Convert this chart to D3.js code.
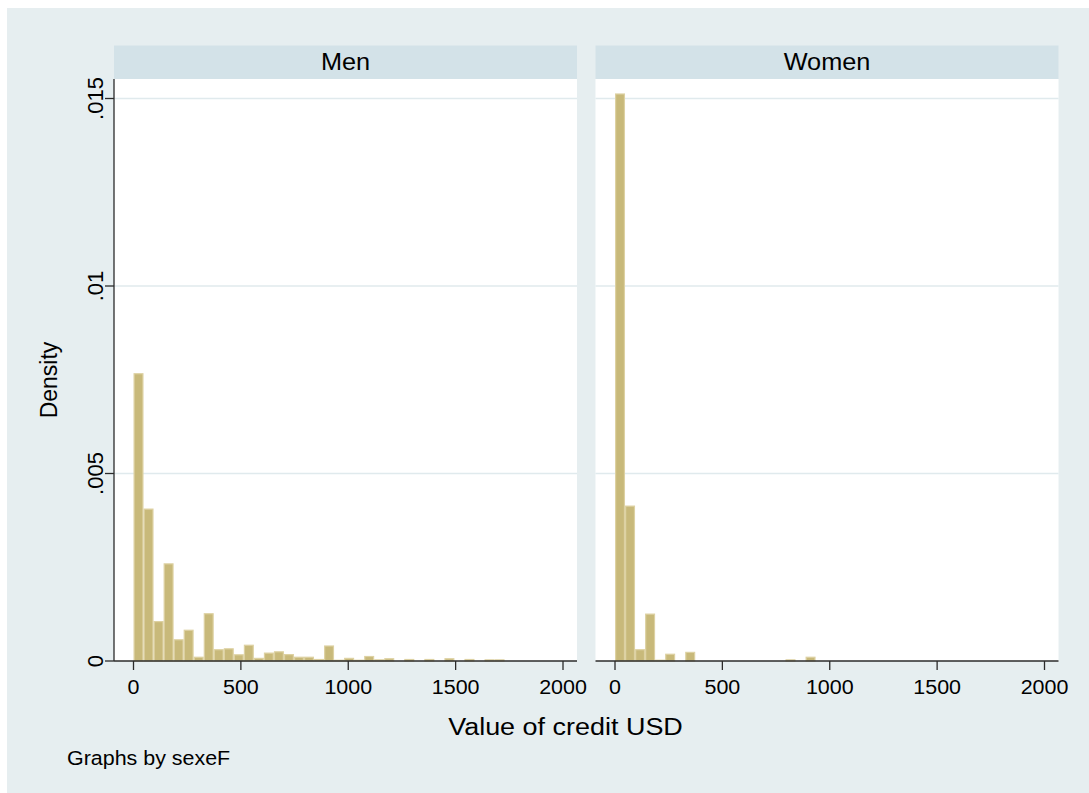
<!DOCTYPE html>
<html>
<head>
<meta charset="utf-8">
<script src="https://cdn.jsdelivr.net/npm/d3@7"></script>
<style>
  html, body { margin: 0; padding: 0; background: #ffffff; }
  svg { display: block; }
  text { font-family: "Liberation Sans", Arial, Helvetica, sans-serif; fill: #000; }
</style>
</head>
<body>
<svg id="chart" width="1089" height="793"></svg>
<script>
// Histogram of credit value by sex: densities per bin, bins start at 0
const binWidth = 46.7;
const panels = ["Men", "Women"];
const menDensity = [
  0.00766, 0.00405, 0.00105, 0.00259, 0.000565, 0.00082, 0.0001, 0.00126,
  0.0003, 0.000325, 0.000165, 0.00042, 0.00007, 0.00021, 0.000245, 0.00017,
  0.0001, 0.0001, 0.00004, 0.0004, 0.00002, 0.00007, 0.00002, 0.00012,
  0.00003, 0.00006, 0, 0.00004, 0, 0.00004, 0, 0.00006,
  0, 0.00004, 0, 0.00003, 0.00003
];
const womenDensity = [
  0.01512, 0.00413, 0.0003, 0.00125, 0.00002, 0.00018, 0, 0.00023,
  0, 0, 0, 0, 0, 0, 0, 0,
  0, 0.00003, 0, 0.0001
];
const xTicks = [0, 500, 1000, 1500, 2000];
const yTicks = [0, 0.005, 0.01, 0.015];
const yTickLabels = ["0", ".005", ".01", ".015"];
const xTitle = "Value of credit USD";
const yTitle = "Density";
const note = "Graphs by sexeF";

const svg = d3.select("#chart");
const W = 1089, H = 793;

const bg = "#e6eef0", strip = "#d3e2e8", grid = "#e0eaed";
const barFill = "#c8b97a", barStroke = "#ddd1a2", axisColor = "#2b2b2b";
const hStretch = 1.1;

// outer graph region
svg.append("rect").attr("x", 7).attr("y", 8).attr("width", W - 7).attr("height", H - 8).attr("fill", bg);

const panelX = [114, 595.5];
const panelW = 463;
const stripTop = 45.5, plotTop = 79, axisY = 661;

const y = d3.scaleLinear().domain([0, 0.015]).range([axisY, 98.5]);

const seriesByPanel = [menDensity, womenDensity];

panels.forEach((name, p) => {
  const x0 = panelX[p];
  const x = d3.scaleLinear().domain([0, 2000]).range([x0 + 19.5, x0 + 449]);
  const g = svg.append("g");

  // strip header
  g.append("rect").attr("x", x0).attr("y", stripTop).attr("width", panelW).attr("height", plotTop - stripTop).attr("fill", strip);
  g.append("text")
    .attr("transform", `translate(${x0 + panelW / 2},70) scale(${hStretch},1)`)
    .attr("text-anchor", "middle").attr("font-size", 23).text(name);

  // plot area
  g.append("rect").attr("x", x0).attr("y", plotTop).attr("width", panelW).attr("height", axisY - plotTop).attr("fill", "#ffffff");

  // gridlines
  g.selectAll("line.grid").data(yTicks.filter(d => d > 0)).enter().append("line")
    .attr("x1", x0).attr("x2", x0 + panelW)
    .attr("y1", d => y(d)).attr("y2", d => y(d))
    .attr("stroke", grid).attr("stroke-width", 1.6);

  // bars
  const data = seriesByPanel[p].map((v, i) => ({ i, v })).filter(d => d.v > 0);
  g.selectAll("rect.bar").data(data).enter().append("rect")
    .attr("x", d => x(d.i * binWidth) + 0.6)
    .attr("width", d => x((d.i + 1) * binWidth) - x(d.i * binWidth) - 1.2)
    .attr("y", d => y(d.v))
    .attr("height", d => axisY - y(d.v))
    .attr("fill", barFill).attr("stroke", barStroke).attr("stroke-width", 1.2);

  // x axis
  const xa = g.append("g").attr("transform", `translate(0,${axisY})`);
  xa.append("line").attr("x1", x0).attr("x2", x0 + panelW).attr("stroke", axisColor).attr("stroke-width", 1.3);
  xa.selectAll("line.tick").data(xTicks).enter().append("line")
    .attr("x1", d => x(d)).attr("x2", d => x(d)).attr("y1", 0).attr("y2", 9)
    .attr("stroke", axisColor).attr("stroke-width", 1.3);
  xa.selectAll("text.tick").data(xTicks).enter().append("text")
    .attr("transform", d => `translate(${x(d)},33) scale(${hStretch},1)`)
    .attr("text-anchor", "middle").attr("font-size", 19.5).text(d => d);

  // y axis only on the first panel
  if (p === 0) {
    const ya = g.append("g").attr("transform", `translate(${x0},0)`);
    ya.append("line").attr("y1", plotTop).attr("y2", axisY).attr("stroke", axisColor).attr("stroke-width", 1.3);
    ya.selectAll("line.tick").data(yTicks).enter().append("line")
      .attr("x1", -9).attr("x2", 0).attr("y1", d => y(d)).attr("y2", d => y(d))
      .attr("stroke", axisColor).attr("stroke-width", 1.3);
    ya.selectAll("text.tick").data(yTicks).enter().append("text")
      .attr("transform", d => `translate(-11,${y(d)}) rotate(-90)`)
      .attr("text-anchor", "middle").attr("font-size", 22).text((d, i) => yTickLabels[i]);
  }
});

// axis titles and note
svg.append("text")
  .attr("transform", `translate(565.5,735) scale(${hStretch},1)`)
  .attr("text-anchor", "middle").attr("font-size", 24.5).text(xTitle);
svg.append("text")
  .attr("transform", `translate(57,380) rotate(-90)`)
  .attr("text-anchor", "middle").attr("font-size", 23).text(yTitle);
svg.append("text")
  .attr("transform", `translate(67,765) scale(${hStretch},1)`)
  .attr("font-size", 19.5).text(note);
</script>
</body>
</html>
